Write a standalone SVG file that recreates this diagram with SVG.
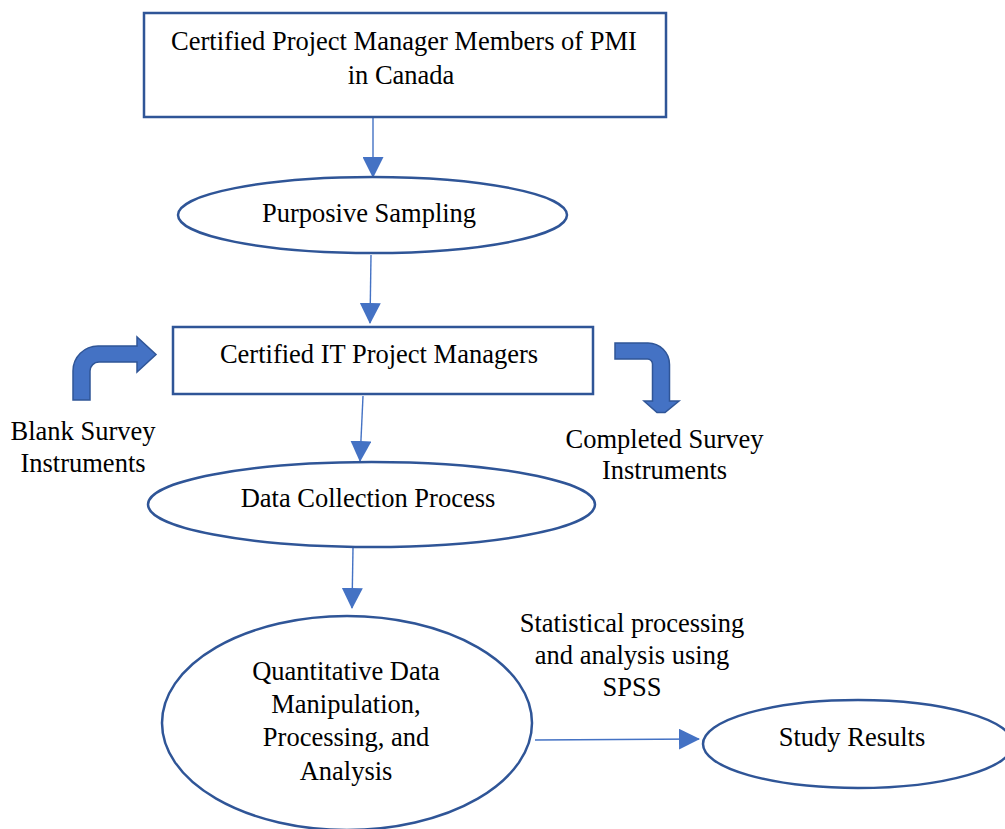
<svg xmlns="http://www.w3.org/2000/svg" width="1005" height="829" viewBox="0 0 1005 829">
<style>
.node{fill:#ffffff;stroke:#2F5597;stroke-width:2.5}
.conn{stroke:#4472C4;stroke-width:1.4;fill:none}
.bent{fill:#4472C4;stroke:#2F5597;stroke-width:1.5;stroke-linejoin:miter}
text{font-family:"Liberation Serif","Times New Roman",serif;font-size:26.5px;fill:#000;text-anchor:middle}
</style>
<defs>
<marker id="ah" markerUnits="userSpaceOnUse" markerWidth="21" markerHeight="21" refX="20" refY="10.5" orient="auto" viewBox="0 0 21 21">
<path d="M0,0 L21,10.5 L0,21 z" fill="#4472C4"/>
</marker>
</defs>
<rect width="1005" height="829" fill="#ffffff"/>
<g id="connectors">
<line class="conn" x1="373" y1="118" x2="373" y2="177" marker-end="url(#ah)"/>
<line class="conn" x1="371" y1="255" x2="370" y2="323" marker-end="url(#ah)"/>
<line class="conn" x1="363" y1="396" x2="360" y2="461" marker-end="url(#ah)"/>
<line class="conn" x1="353" y1="548" x2="352" y2="608" marker-end="url(#ah)"/>
<line class="conn" x1="535" y1="740" x2="699" y2="739" marker-end="url(#ah)"/>
</g>
<g id="node-pmi">
<rect class="node" x="144" y="13" width="522" height="104"/>
<text x="404" y="50">Certified Project Manager Members of PMI</text>
<text x="401" y="84">in Canada</text>
</g>
<g id="node-sampling">
<ellipse class="node" cx="372.5" cy="215" rx="194.5" ry="38"/>
<text x="369" y="222">Purposive Sampling</text>
</g>
<g id="node-it-pm">
<rect class="node" x="173" y="327" width="420" height="67"/>
<text x="379" y="363">Certified IT Project Managers</text>
</g>
<g id="node-data-collection">
<ellipse class="node" cx="371.5" cy="504.5" rx="223.5" ry="42.5"/>
<text x="368" y="507">Data Collection Process</text>
</g>
<g id="node-analysis">
<ellipse class="node" cx="347" cy="723" rx="185" ry="107"/>
<text x="346" y="680">Quantitative Data</text>
<text x="346" y="713">Manipulation,</text>
<text x="346" y="746">Processing, and</text>
<text x="346" y="780">Analysis</text>
</g>
<g id="node-results">
<ellipse class="node" cx="858" cy="744" rx="155" ry="44"/>
<text x="852" y="746">Study Results</text>
</g>
<g id="label-spss">
<text x="632" y="632">Statistical processing</text>
<text x="632" y="664">and analysis using</text>
<text x="632" y="696">SPSS</text>
</g>
<g id="blank-survey">
<path class="bent" d="M73,400 L73,371 A25,25 0 0 1 98,346 L137,346 L137,337 L156,354.5 L137,372 L137,362 L99,362 A9,9 0 0 0 90,371 L90,400 Z"/>
<text x="83" y="440">Blank Survey</text>
<text x="83" y="472">Instruments</text>
</g>
<g id="completed-survey">
<path class="bent" d="M615,343 L648,343 A21.5,21.5 0 0 1 669.5,364.5 L669.5,401 L679,401 L665,412.5 L657,412.5 L644,401 L652.5,401 L652.5,364 A5,5 0 0 0 647.5,359 L615,359 Z"/>
<text x="664.5" y="448">Completed Survey</text>
<text x="664.5" y="479">Instruments</text>
</g>
</svg>
